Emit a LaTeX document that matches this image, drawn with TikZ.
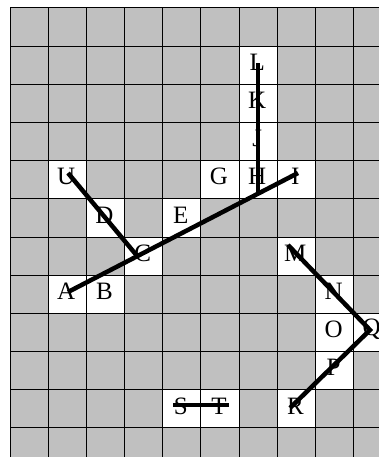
\documentclass[tikz,border=0pt]{standalone}
\usepackage{fontspec}
\setmainfont{Liberation Serif}
\definecolor{cellgray}{HTML}{C0C0C0}
\tikzset{
  gridline/.style={black, line width=1pt},
  lbl/.style={inner sep=0pt, font=\fontsize{25}{25}\selectfont, yshift=3pt, xshift=-1pt},
  stroke/.style={black, line width=4.5pt, line cap=butt, line join=miter}
}
\begin{document}
\begin{tikzpicture}[x=1pt,y=-1pt]
\useasboundingbox (0,0) rectangle (379,457);
\begin{scope}
\clip (0,0) rectangle (379,457);
\fill[cellgray] (10,8) rectangle (400,470);
% white cells (column, row)
\foreach \c/\r in {6/1,6/2,6/3,5/4,6/4,7/4,1/4,2/5,4/5,3/6,1/7,2/7,7/6,8/7,8/8,9/8,8/9,7/10,4/10,5/10}
  \fill[white] ({10+\c*38.18},{8+\r*38.18}) rectangle ++(38.18,38.18);
\foreach \i in {0,...,10}
  \draw[gridline] ({10+\i*38.18},8) -- ({10+\i*38.18},470);
\foreach \j in {0,...,11}
  \draw[gridline] (10,{8+\j*38.18}) -- (400,{8+\j*38.18});
\end{scope}
% letters
\foreach \n/\c/\r in {L/6/1,K/6/2,J/6/3,G/5/4,H/6/4,I/7/4,U/1/4,D/2/5,E/4/5,C/3/6,A/1/7,B/2/7,M/7/6,N/8/7,O/8/8,Q/9/8,P/8/9,R/7/10,S/4/10,T/5/10}
  \node[lbl] (\n) at ({10+\c*38.18+19.09},{8+\r*38.18+19.09}) {\n};
% connector end points
\coordinate (pU) at (68,173);
\coordinate (pC) at (138,257);
\coordinate (pA) at (68,292);
\coordinate (pI) at (298,173);
\coordinate (pL) at (258,63);
\coordinate (pH) at (258,193);
\coordinate (pM) at (288,245);
\coordinate (pQ) at (370,330);
\coordinate (pR) at (290,408);
\coordinate (pS) at (173,405);
\coordinate (pT) at (229,405);
\draw[stroke] (pU) -- (pC);
\draw[stroke] (pA) -- (pI);
\draw[stroke] (pH) -- (pL);
\draw[stroke] (pM) -- (pQ) -- (pR);
\draw[stroke] (pS) -- (pT);
\end{tikzpicture}
\end{document}
